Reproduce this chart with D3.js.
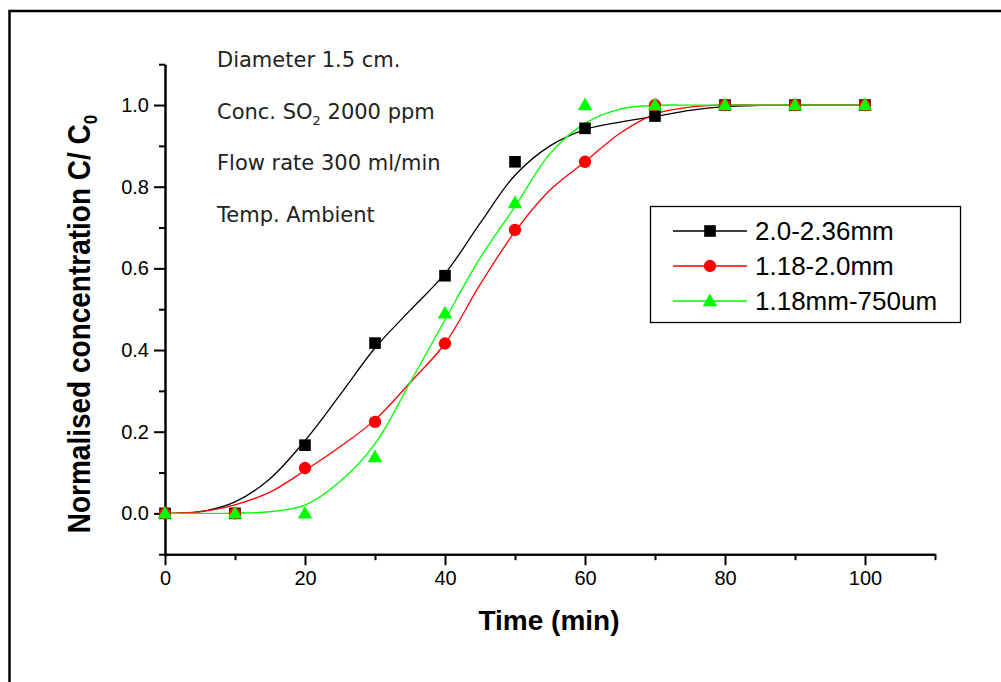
<!DOCTYPE html>
<html>
<head>
<meta charset="utf-8">
<script src="https://cdn.jsdelivr.net/npm/d3@7"></script>
<style>
  body { margin: 0; background: #fff; }
  svg { display: block; font-family: "Liberation Sans", Arial, sans-serif; }
</style>
</head>
<body>
<svg width="1001" height="682"></svg>
<script>
// measured points (min, C/C0)
const times = [0, 10, 20, 30, 40, 50, 60, 70, 80, 90, 100];
const blackVals = [0, 0, 0.167, 0.417, 0.582, 0.861, 0.943, 0.973, 1, 1, 1];
const redVals = [0, 0, 0.111, 0.224, 0.416, 0.694, 0.861, 1.0, 1, 1, 1];
const greenVals = [0, 0, 0, 0.138, 0.49, 0.76, 1.0, 1.0, 1, 1, 1];

// fitted curves, every 5 min
const fitTimes = [0, 5, 10, 15, 20, 25, 30, 35, 40, 45, 50, 55, 60, 65, 70, 75, 80, 85, 90, 95, 100];
const blackFit = [0, 0.004, 0.028, 0.085, 0.178, 0.29, 0.405, 0.497, 0.587, 0.71, 0.828, 0.90, 0.94, 0.958, 0.972, 0.987, 0.996, 0.999, 1, 1, 1];
const redFit = [0, 0.004, 0.021, 0.052, 0.105, 0.163, 0.229, 0.32, 0.416, 0.56, 0.69, 0.792, 0.861, 0.931, 0.978, 0.995, 1, 1, 1, 1, 1];
const greenFit = [0, 0, 0.0005, 0.004, 0.02, 0.078, 0.17, 0.32, 0.474, 0.625, 0.751, 0.881, 0.955, 0.99, 0.999, 1, 1, 1, 1, 1, 1];

const seriesNames = ["2.0-2.36mm", "1.18-2.0mm", "1.18mm-750um"];
const xMajor = [0, 20, 40, 60, 80, 100];
const xMinor = [10, 30, 50, 70, 90, 110];
const yMajor = [0, 0.2, 0.4, 0.6, 0.8, 1.0];
const yMinor = [-0.1, 0.1, 0.3, 0.5, 0.7, 0.9, 1.1];
const notes = ["Diameter 1.5 cm.", "Conc. SO|2| 2000 ppm", "Flow rate 300 ml/min", "Temp. Ambient"];

let svg = d3.select("svg");

// page frame (top + left only)
svg.append("path")
    .attr("d", "M9.5,682V11H1001")
    .attr("fill", "none")
    .attr("stroke", "#000")
    .attr("stroke-width", 2.5);

let x = d3.scaleLinear().domain([0, 110]).range([165, 935]);
let y = d3.scaleLinear().domain([-0.1, 1.1]).range([554.2, 64.2]);

let series = [
    {name: seriesNames[0], vals: blackVals, fit: blackFit, color: "#000000", shape: d3.symbolSquare, size: 135},
    {name: seriesNames[1], vals: redVals, fit: redFit, color: "#ff0000", shape: d3.symbolCircle, size: 120},
    {name: seriesNames[2], vals: greenVals, fit: greenFit, color: "#00ff00", shape: d3.symbolTriangle, size: 92}
];

// axes
function styleAxis(g) {
    g.select(".domain").attr("stroke-width", 2);
    g.selectAll(".tick line").attr("stroke-width", 2);
    g.selectAll("text")
        .attr("font-size", 20)
        .attr("font-family", "'Liberation Sans', Arial, sans-serif")
        .attr("fill", "#000");
}

svg.append("g")
    .attr("transform", "translate(0," + y(-0.1) + ")")
    .call(d3.axisBottom(x).tickValues(xMinor).tickSize(6).tickSizeOuter(0).tickFormat(""))
    .call(styleAxis);
svg.append("g")
    .attr("transform", "translate(0," + y(-0.1) + ")")
    .call(d3.axisBottom(x).tickValues(xMajor).tickSize(11).tickSizeOuter(0).tickPadding(6))
    .call(styleAxis);

svg.append("g")
    .attr("transform", "translate(" + x(0) + ",0)")
    .call(d3.axisLeft(y).tickValues(yMinor).tickSize(6).tickSizeOuter(0).tickFormat(""))
    .call(styleAxis);
svg.append("g")
    .attr("transform", "translate(" + x(0) + ",0)")
    .call(d3.axisLeft(y).tickValues(yMajor).tickSize(11).tickSizeOuter(0).tickPadding(5).tickFormat(d3.format(".1f")))
    .call(styleAxis);

// axis titles
svg.append("text")
    .attr("x", 549)
    .attr("y", 630)
    .attr("text-anchor", "middle")
    .attr("font-size", 28)
    .attr("font-weight", "bold")
    .text("Time (min)");

let yt = svg.append("text")
    .attr("transform", "translate(90,324) rotate(-90) scale(1,1.13)")
    .attr("text-anchor", "middle")
    .attr("font-size", 28)
    .attr("font-weight", "bold");
yt.append("tspan").text("Normalised concentration C/ C");
yt.append("tspan").attr("font-size", 17).attr("dy", 6).text("0");

// notes
notes.forEach(function (s, i) {
    let parts = s.split("|");
    let t = svg.append("text")
        .attr("x", 217)
        .attr("y", 66.7 + i * 51.8)
        .attr("font-family", "'DejaVu Sans', sans-serif")
        .attr("font-size", 21)
        .attr("fill", "#222");
    t.append("tspan").text(parts[0]);
    if (parts.length > 1) {
        t.append("tspan").attr("font-size", 13).attr("dy", 6).text(parts[1]);
        t.append("tspan").attr("dy", -6).text(parts[2]);
    }
});

// fitted curves
let line = d3.line()
    .x(function (d) { return x(d[0]); })
    .y(function (d) { return y(d[1]); })
    .curve(d3.curveCatmullRom.alpha(0.5));

series.forEach(function (s) {
    svg.append("path")
        .datum(fitTimes.map(function (t, i) { return [t, s.fit[i]]; }))
        .attr("d", line)
        .attr("fill", "none")
        .attr("stroke", s.color)
        .attr("stroke-width", 1.3);
});

// markers
series.forEach(function (s) {
    svg.append("g")
        .selectAll("path")
        .data(times.map(function (t, i) { return [t, s.vals[i]]; }))
        .enter().append("path")
        .attr("transform", function (d) {
            return "translate(" + x(d[0]) + "," + (y(d[1]) + (s.shape === d3.symbolTriangle ? 1 : 0)) + ")";
        })
        .attr("d", d3.symbol().type(s.shape).size(s.size))
        .attr("fill", s.color);
});

// legend
let lg = svg.append("g");
lg.append("rect")
    .attr("x", 650.5)
    .attr("y", 206.5)
    .attr("width", 310)
    .attr("height", 116)
    .attr("fill", "#fff")
    .attr("stroke", "#000")
    .attr("stroke-width", 1.3);

let item = lg.selectAll("g.item")
    .data(series)
    .enter().append("g")
    .attr("class", "item")
    .attr("transform", function (d, i) { return "translate(0," + (231 + i * 35) + ")"; });

item.append("line")
    .attr("x1", 673).attr("x2", 747)
    .attr("stroke", function (d) { return d.color; })
    .attr("stroke-width", 1.3);
item.append("path")
    .attr("transform", function (d) { return "translate(710," + (d.shape === d3.symbolTriangle ? 1 : 0) + ")"; })
    .attr("d", function (d) { return d3.symbol().type(d.shape).size(d.size)(); })
    .attr("fill", function (d) { return d.color; });
item.append("text")
    .attr("x", 755)
    .attr("dy", "0.35em")
    .attr("font-size", 26)
    .text(function (d) { return d.name; });
</script>
</body>
</html>
